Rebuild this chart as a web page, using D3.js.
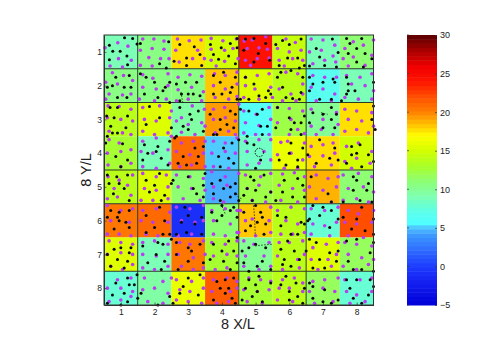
<!DOCTYPE html>
<html>
<head>
<meta charset="utf-8">
<script src="https://cdn.jsdelivr.net/npm/d3@7"></script>
<style>
html, body { margin: 0; padding: 0; background: #fff; }
svg { display: block; }
text { font-family: "Liberation Sans", Arial, sans-serif; fill: #222; }
</style>
</head>
<body>
<div id="chart"></div>
<script>
// positions are in hundredths of X/L, so 100 is the tick "1"
var tickValues = [100, 200, 300, 400, 500, 600, 700, 800];
var tickLabels = ["1", "2", "3", "4", "5", "6", "7", "8"];
var barTicks = [-5, 0, 5, 10, 15, 20, 25, 30];

var row1 = [9, 10.8, 17.8, 15, 24, 14.6, 9.2, 11];
var row2 = [10.4, 10.6, 10.4, 18.2, 15.6, 14, 6.6, 9.2];
var row3 = [13.6, 15.6, 9.6, 19.4, 6, 12, 10, 17.8];
var row4 = [12.6, 9.2, 21, 5, 8.2, 16, 17.8, 15];
var row5 = [14, 15.6, 11.4, 4.4, 12, 13, 18.6, 11.4];
var row6 = [20.4, 20.8, -1, 11, 18.2, 14, 8, 22];
var row7 = [15.6, 9, 20.6, 13, 10.2, 13.6, 15.4, 11.8];
var row8 = [7.6, 9.6, 16.2, 21.6, 12.6, 14, 11.8, 8];
var cellValues = [row1, row2, row3, row4, row5, row6, row7, row8];

var gridX = [150, 450, 650];
var gridY = [150, 250, 450, 550, 750];

var colorStops = [-5, -2, 0, 4, 5, 5.6, 7, 9, 11, 13, 15, 17, 18, 20, 22, 24, 26, 28, 30];
var colorNames = ["#0000d8", "#1420f0", "#1e3cff", "#3c96ff", "#50beff", "#50ffff", "#5affee", "#7dffb4",
  "#8cff78", "#a8ff28", "#d2ff00", "#ffff00", "#ffd200", "#ff8200", "#ff5000", "#ff1400", "#f00000", "#aa0000", "#5a0000"];

var purpleDots = [
  [91,73],[121,83],[53,88],[93,120],[131,125],[68,142],[105,145],
  [165,62],[198,62],[228,68],[158,95],[193,90],[228,92],[183,117],[218,120],[158,140],[193,142],[243,120],
  [268,62],[303,67],[338,65],[263,95],[328,95],[273,130],[313,120],[348,120],
  [368,60],[403,67],[443,62],[368,92],[408,95],[433,90],[368,125],[408,128],[448,120],[383,142],
  [466,68],[490,65],[530,55],[475,90],[510,88],[535,92],[470,125],[505,120],[540,118],[485,140],
  [590,62],[618,72],[635,95],[565,90],[600,100],[570,125],[610,120],[640,125],[585,142],
  [665,62],[700,65],[735,80],[660,100],[695,95],[730,112],[670,135],[705,125],[738,130],
  [790,70],[820,80],[850,65],[765,90],[845,110],[760,120],[790,115],[825,140],[775,142],
  [75,162],[108,170],[55,190],[90,195],[135,185],[65,225],[105,228],[55,240],[130,225],
  [165,168],[195,178],[240,165],[165,205],[205,210],[240,200],[155,240],[200,245],[235,240],
  [270,175],[305,168],[340,172],[270,212],[310,205],[345,218],[265,245],[300,240],[340,245],
  [378,165],[410,170],[445,160],[375,200],[410,210],[445,195],[380,235],[420,240],[445,232],
  [470,175],[505,170],[540,165],[470,200],[498,210],[545,205],[465,235],[510,240],[550,235],
  [590,160],[625,165],[640,195],[570,210],[605,225],[640,225],[580,245],[620,245],
  [670,170],[705,175],[740,175],[665,205],[700,210],[735,225],[680,245],[725,245],
  [770,170],[810,175],[845,165],[785,195],[825,200],[850,215],[765,235],[805,240],[845,240],
  [62,260],[95,262],[130,270],[60,295],[100,300],[135,305],[65,335],[105,340],[130,345],
  [165,265],[215,260],[250,275],[170,300],[205,305],[245,295],[165,335],[200,345],[240,340],
  [280,295],[312,260],[348,270],[265,305],[300,315],[340,310],[280,338],[320,345],[350,320],
  [375,270],[408,265],[450,255],[375,300],[410,295],[440,305],[380,340],[420,335],[440,345],
  [465,275],[502,285],[540,265],[470,310],[510,318],[545,300],[465,340],[500,345],[540,345],
  [565,265],[600,268],[640,275],[565,310],[605,300],[625,330],[600,345],[645,342],
  [665,270],[700,300],[740,280],[665,320],[695,330],[745,315],[680,345],[730,345],
  [765,270],[800,275],[845,280],[775,300],[815,305],[850,320],[765,335],[800,330],[835,340],
  [65,360],[95,370],[130,390],[60,400],[100,395],[62,435],[100,440],[130,430],
  [165,365],[205,355],[250,350],[160,395],[195,400],[240,390],[165,440],[205,445],[245,430],
  [280,370],[315,365],[350,365],[265,395],[305,405],[345,400],[275,440],[310,435],[350,440],
  [375,365],[410,370],[445,355],[370,400],[410,395],[440,400],[375,440],[420,445],
  [470,365],[510,360],[545,360],[475,395],[525,395],[475,435],[510,430],[545,420],
  [575,368],[595,365],[645,370],[565,405],[605,400],[640,420],[585,445],[625,445],
  [665,380],[700,375],[730,370],[660,410],[700,408],[735,400],[675,440],[725,435],
  [770,380],[805,370],[845,395],[765,425],[800,415],[840,430],[785,445],
  [62,470],[95,480],[135,465],[80,505],[120,495],[60,535],[90,530],[130,525],
  [165,460],[205,470],[235,465],[170,505],[205,510],[240,500],[160,540],[195,540],[240,535],
  [265,465],[305,470],[345,475],[270,500],[310,505],[350,510],[285,535],[335,540],
  [370,455],[410,470],[450,460],[375,500],[415,495],[375,535],[405,545],
  [470,465],[515,470],[545,460],[475,505],[510,495],[545,515],[490,540],[530,545],
  [580,462],[615,458],[645,470],[570,495],[610,505],[645,510],[575,540],[625,545],
  [680,465],[715,475],[745,470],[660,500],[700,510],[740,500],[680,535],[725,545],
  [760,465],[805,460],[845,470],[775,505],[820,500],[850,515],[760,540],[800,535],[835,545],
  [60,555],[100,570],[135,565],[70,600],[125,605],[60,640],[95,640],[130,645],
  [165,570],[205,565],[245,575],[160,600],[195,605],[240,605],[175,640],[210,645],
  [265,560],[305,565],[345,555],[280,600],[320,605],[345,600],[270,645],[310,640],
  [370,570],[410,565],[445,570],[375,600],[425,610],[445,635],[375,640],[410,645],
  [455,570],[490,595],[545,560],[470,600],[540,600],[450,635],[500,645],[545,635],
  [565,570],[605,560],[645,565],[590,600],[625,610],[575,640],[610,640],[645,635],
  [665,565],[705,570],[745,560],[670,610],[705,615],[740,605],[665,640],[720,645],
  [775,570],[805,580],[850,570],[765,605],[800,610],[845,605],[775,645],[820,650],
  [65,660],[100,665],[135,670],[60,700],[100,695],[135,700],[70,735],[105,745],[135,730],
  [165,665],[200,660],[240,670],[165,700],[205,705],[240,700],[165,740],[200,745],[240,735],
  [275,665],[305,670],[345,660],[270,700],[315,710],[350,700],[280,735],[315,745],[345,740],
  [370,665],[410,670],[445,660],[375,705],[415,700],[445,705],[380,745],[415,740],
  [465,660],[495,670],[540,665],[470,705],[525,705],[465,735],[510,745],[545,735],
  [570,665],[600,665],[640,660],[565,705],[625,715],[645,700],[580,745],[630,740],
  [670,680],[710,670],[745,665],[665,715],[715,715],[740,700],[685,745],[725,735],
  [765,665],[800,670],[845,675],[775,700],[815,710],[850,715],[760,735],[800,745],[835,730],
  [90,775],[130,770],[60,800],[100,800],[135,810],[65,840],[100,835],[130,825],
  [170,770],[225,780],[250,770],[165,805],[200,800],[240,815],[180,840],[225,845],
  [265,775],[310,780],[345,770],[275,805],[305,810],[345,800],[265,835],[300,840],[340,845],
  [375,775],[415,770],[445,780],[370,810],[425,810],[445,800],[385,845],[420,840],
  [480,770],[515,775],[545,780],[465,805],[505,810],[540,805],[475,840],[520,845],
  [580,775],[615,770],[640,785],[570,800],[600,800],[640,810],[565,835],[610,840],
  [670,780],[705,775],[745,770],[660,810],[700,800],[735,810],[675,845],[730,840],
  [765,775],[810,775],[845,770],[770,810],[800,820],[845,810],[780,845],[825,840]
];

var blackDots = [
  [66,80],[111,58],[135,60],[76,98],[98,98],[148,77],[118,112],[66,123],[120,138],
  [158,75],[215,135],[235,148],[242,70],
  [275,78],[318,85],[295,118],[335,108],[258,128],[295,140],[340,140],
  [366,78],[398,88],[425,75],[390,122],[420,112],[375,108],[440,135],[445,60],
  [445,88],[495,60],[465,95],[530,75],[495,130],[508,105],[542,125],[470,62],
  [580,66],[600,78],[560,78],[635,62],[595,118],[625,118],[570,140],[630,148],[645,140],
  [680,90],[728,62],[690,115],[660,142],[745,102],[705,140],[740,145],
  [770,60],[815,60],[780,75],[800,90],[775,105],[825,105],[845,120],[800,130],[820,145],
  [85,175],[125,170],[60,205],[75,200],[130,205],[110,205],[90,235],[118,235],
  [175,175],[200,190],[225,215],[170,225],[210,235],[245,190],[158,165],[232,205],
  [265,195],[292,190],[325,190],[280,225],[335,230],[300,225],[275,245],[315,225],
  [375,170],[405,160],[440,175],[395,190],[430,205],[375,225],[400,225],[425,220],[445,240],
  [470,175],[495,195],[480,240],[530,235],[545,225],[455,240],[538,215],[510,230],
  [575,160],[605,155],[640,175],[580,205],[635,220],[590,235],[610,238],[630,240],[565,175],
  [660,175],[700,190],[730,180],[670,195],[660,215],[735,190],[725,240],[690,240],
  [770,175],[775,195],[770,225],[775,215],[795,215],[850,190],[755,245],
  [68,265],[90,265],[58,290],[80,295],[120,290],[70,320],[115,325],[90,340],
  [185,262],[215,295],[175,315],[245,250],[250,325],
  [275,265],[305,285],[285,320],[330,275],[265,350],[310,300],[345,335],[300,330],
  [365,285],[395,300],[375,345],[425,275],[440,285],[395,330],[435,325],[415,315],
  [455,270],[480,275],[520,270],[505,285],[515,320],[535,320],[520,345],[475,350],
  [565,265],[600,295],[615,310],[635,310],[645,290],[605,330],[635,345],[560,325],
  [670,280],[700,285],[725,265],[740,285],[660,310],[700,325],[735,325],[725,300],
  [855,330],[850,260],[845,300],
  [60,350],[75,340],[55,370],[105,372],[85,410],[120,420],[100,440],
  [170,375],[210,380],[245,365],[180,400],[205,395],[165,420],[220,415],[240,435],
  [260,355],[320,385],[345,380],[285,410],[330,410],[270,430],[295,435],[325,430],
  [385,345],[405,385],[430,370],[450,360],[390,410],[420,415],[395,440],[435,430],
  [475,370],[495,375],[515,420],[500,445],
  [605,370],[640,385],[600,400],[625,420],[590,435],[625,440],[570,420],
  [690,360],[735,385],[680,430],[745,420],[720,415],[655,405],
  [785,380],[810,375],[785,405],[800,400],[835,405],[770,430],[815,440],[850,425],
  [60,465],[88,470],[120,465],[65,490],[110,505],[95,490],[78,520],[125,540],
  [175,480],[215,460],[200,495],[185,515],[230,525],[250,490],[220,540],
  [255,480],[315,505],[345,495],[325,520],[345,530],[300,470],[350,460],
  [370,490],[395,480],[425,500],[440,490],[405,505],[425,530],[375,520],[450,540],[440,520],[395,540],
  [485,470],[495,480],[525,465],[475,505],[500,510],[490,540],[465,525],[530,530],[545,515],
  [585,480],[625,475],[640,495],[580,515],[610,530],[560,540],[645,530],
  [665,470],[715,520],[760,545],[725,545],
  [790,470],[800,480],[835,490],[790,510],[830,510],[810,540],[845,545],
  [70,570],[95,575],[125,570],[60,590],[90,590],[115,605],[80,625],[125,620],[95,600],
  [175,585],[215,560],[200,620],[230,600],[245,640],[175,635],[225,640],
  [290,560],[300,585],[340,590],[280,605],[320,610],[295,635],[265,640],[340,640],
  [400,555],[435,560],[400,585],[425,570],[445,590],[385,600],[370,575],[445,650],
  [465,575],[500,555],[520,590],[505,605],[485,615],[515,575],[530,610],[470,630],[525,640],
  [575,615],[605,640],[590,590],[635,605],[625,640],[565,585],[645,610],
  [670,555],[700,560],[725,570],[660,595],[690,585],[655,600],[745,595],[720,620],
  [760,590],[800,595],[850,595],[815,560],[785,625],[825,630],[850,640],
  [80,685],[100,680],[130,680],[60,700],[90,715],[120,720],[70,735],[110,740],[125,695],
  [210,665],[225,670],[165,675],[205,700],[180,725],[230,720],[250,655],[220,745],
  [265,665],[300,680],[335,670],[310,690],[265,700],[300,720],[345,725],[270,745],
  [375,670],[420,660],[400,690],[435,690],[365,715],[405,720],[445,725],[425,745],
  [460,690],[480,680],[500,670],[530,680],[465,725],[520,720],[505,735],[545,745],[480,750],
  [575,685],[595,660],[615,690],[585,715],[630,715],[605,735],[650,690],[580,730],
  [660,655],[680,665],[720,695],[740,720],[670,740],[690,715],[745,690],[705,740],
  [770,660],[800,655],[850,665],[775,720],[840,695],[790,745],[815,745],[850,750],
  [125,790],[120,770],[85,785],[75,820],[110,815],[120,840],[60,845],[100,850],
  [148,760],[140,790],[150,830],[210,850],[245,825],[160,815],
  [300,770],[285,795],[335,760],[255,845],[330,820],[275,815],
  [385,780],[410,775],[435,770],[395,800],[420,800],[375,835],[410,815],[440,845],[430,830],
  [480,775],[500,790],[510,765],[470,800],[505,810],[545,785],[490,825],[520,840],[460,835],
  [590,765],[575,790],[600,810],[620,785],[645,800],[600,835],[625,825],[640,845],
  [660,785],[670,795],[705,805],[670,830],[700,840],[725,845],[745,835],
  [770,775],[800,775],[840,775],[780,800],[850,795],[790,830],[835,820],[815,845]
];

var dashedPaths = [
  [[494,555],[497,590],[499,645]],
  [[499,675],[525,672],[550,670]],
  [[398,550],[403,565],[410,580]],
  [[443,520],[448,530],[458,535]],
  [[278,220],[282,240],[285,255]],
  [[694,280],[705,283],[714,285]]
];
var ringCenter = [511, 398];

var width = 498, height = 352;
var plot = {left: 104, right: 373.5, top: 35, bottom: 305};
var bar = {left: 407, right: 437};

var svg = d3.select("#chart").append("svg")
  .attr("width", width)
  .attr("height", height);

var x = d3.scaleLinear().domain([50, 850]).range([plot.left, plot.right]);
var y = d3.scaleLinear().domain([50, 850]).range([plot.top, plot.bottom]);
var color = d3.scaleLinear().domain(colorStops).range(colorNames).clamp(true);
var barScale = d3.scaleLinear().domain([-5, 30]).range([plot.bottom, plot.top]);

// the colour map has 64 flat levels
var levels = d3.range(64);
function levelValue(i) { return -5 + (i + 0.5) * 35 / 64; }
function stepped(v) {
  return color(levelValue(Math.min(63, Math.floor((v + 5) / 35 * 64))));
}

// cells
cellValues.forEach(function (values, r) {
  svg.selectAll(null)
    .data(values)
    .enter().append("rect")
    .attr("x", function (d, c) { return x(tickValues[c] - 50); })
    .attr("y", y(tickValues[r] - 50))
    .attr("width", x(150) - x(50))
    .attr("height", y(150) - y(50))
    .attr("fill", function (d) { return stepped(d); });
});

// walls
svg.selectAll(".wx").data(gridX).enter().append("line")
  .attr("x1", x).attr("x2", x)
  .attr("y1", plot.top).attr("y2", plot.bottom)
  .attr("stroke", "#2a3a2a").attr("stroke-width", 1);
svg.selectAll(".wy").data(gridY).enter().append("line")
  .attr("y1", y).attr("y2", y)
  .attr("x1", plot.left).attr("x2", plot.right)
  .attr("stroke", "#2a3a2a").attr("stroke-width", 1);

// dots
svg.append("g").selectAll("circle").data(purpleDots).enter().append("circle")
  .attr("cx", function (d) { return x(d[0]); })
  .attr("cy", function (d) { return y(d[1]); })
  .attr("r", 1.8)
  .attr("fill", "#b93cf0");

svg.append("g").selectAll("circle").data(blackDots).enter().append("circle")
  .attr("cx", function (d) { return x(d[0]); })
  .attr("cy", function (d) { return y(d[1]); })
  .attr("r", 1.5)
  .attr("fill", "#0a0a0a");

var dashLine = d3.line()
  .x(function (d) { return x(d[0]); })
  .y(function (d) { return y(d[1]); });
svg.append("g").selectAll("path").data(dashedPaths).enter().append("path")
  .attr("d", dashLine)
  .attr("fill", "none")
  .attr("stroke", "#111")
  .attr("stroke-width", 0.8)
  .attr("stroke-dasharray", "1.5,1.5");

svg.append("circle")
  .attr("cx", x(ringCenter[0]))
  .attr("cy", y(ringCenter[1]))
  .attr("r", 4.2)
  .attr("fill", "none")
  .attr("stroke", "#111")
  .attr("stroke-width", 1)
  .attr("stroke-dasharray", "1.5,1.2");

// axes
function tickFmt(d, i) { return tickLabels[i]; }
var axisColor = "#333";

function styleAxis(g) {
  g.selectAll("path").attr("stroke", axisColor).attr("stroke-width", 1);
  g.selectAll("line").attr("stroke", axisColor).attr("stroke-width", 0.7);
  g.selectAll("text").style("font-size", "8.5px").attr("fill", "#222");
}

svg.append("g")
  .attr("transform", "translate(0," + plot.bottom + ")")
  .call(d3.axisBottom(x).tickValues(tickValues).tickFormat(tickFmt).tickSize(-2.5).tickSizeOuter(0).tickPadding(4))
  .call(styleAxis);
svg.append("g")
  .attr("transform", "translate(" + plot.left + ",0)")
  .call(d3.axisLeft(y).tickValues(tickValues).tickFormat(tickFmt).tickSize(-2.5).tickSizeOuter(0).tickPadding(2))
  .call(styleAxis);
svg.append("rect")
  .attr("x", plot.left).attr("y", plot.top)
  .attr("width", plot.right - plot.left).attr("height", plot.bottom - plot.top)
  .attr("fill", "none").attr("stroke", axisColor).attr("stroke-width", 1);

svg.append("text")
  .attr("x", 238).attr("y", 329)
  .attr("text-anchor", "middle")
  .style("font-size", "14.5px")
  .text("8 X/L");
svg.append("text")
  .attr("transform", "translate(91,170) rotate(-90)")
  .attr("text-anchor", "middle")
  .style("font-size", "14.5px")
  .text("8 Y/L");

// colour bar
svg.append("g").selectAll("rect").data(levels).enter().append("rect")
  .attr("x", bar.left)
  .attr("width", bar.right - bar.left)
  .attr("y", function (d) { return barScale(-5 + (d + 1) * 35 / 64); })
  .attr("height", (plot.bottom - plot.top) / 64 + 0.5)
  .attr("fill", function (d) { return color(levelValue(d)); });

svg.append("g")
  .attr("transform", "translate(" + bar.right + ",0)")
  .call(d3.axisRight(barScale).tickValues(barTicks).tickSize(-2).tickSizeOuter(0).tickPadding(3))
  .call(styleAxis)
  .call(function (g) {
    g.select(".domain").attr("stroke", "none");
    g.selectAll("text").style("font-size", "9px");
  });
svg.selectAll(".barleft").data(barTicks).enter().append("line")
  .attr("x1", bar.left).attr("x2", bar.left + 2)
  .attr("y1", barScale).attr("y2", barScale)
  .attr("stroke", axisColor).attr("stroke-width", 0.7);
</script>
</body>
</html>
